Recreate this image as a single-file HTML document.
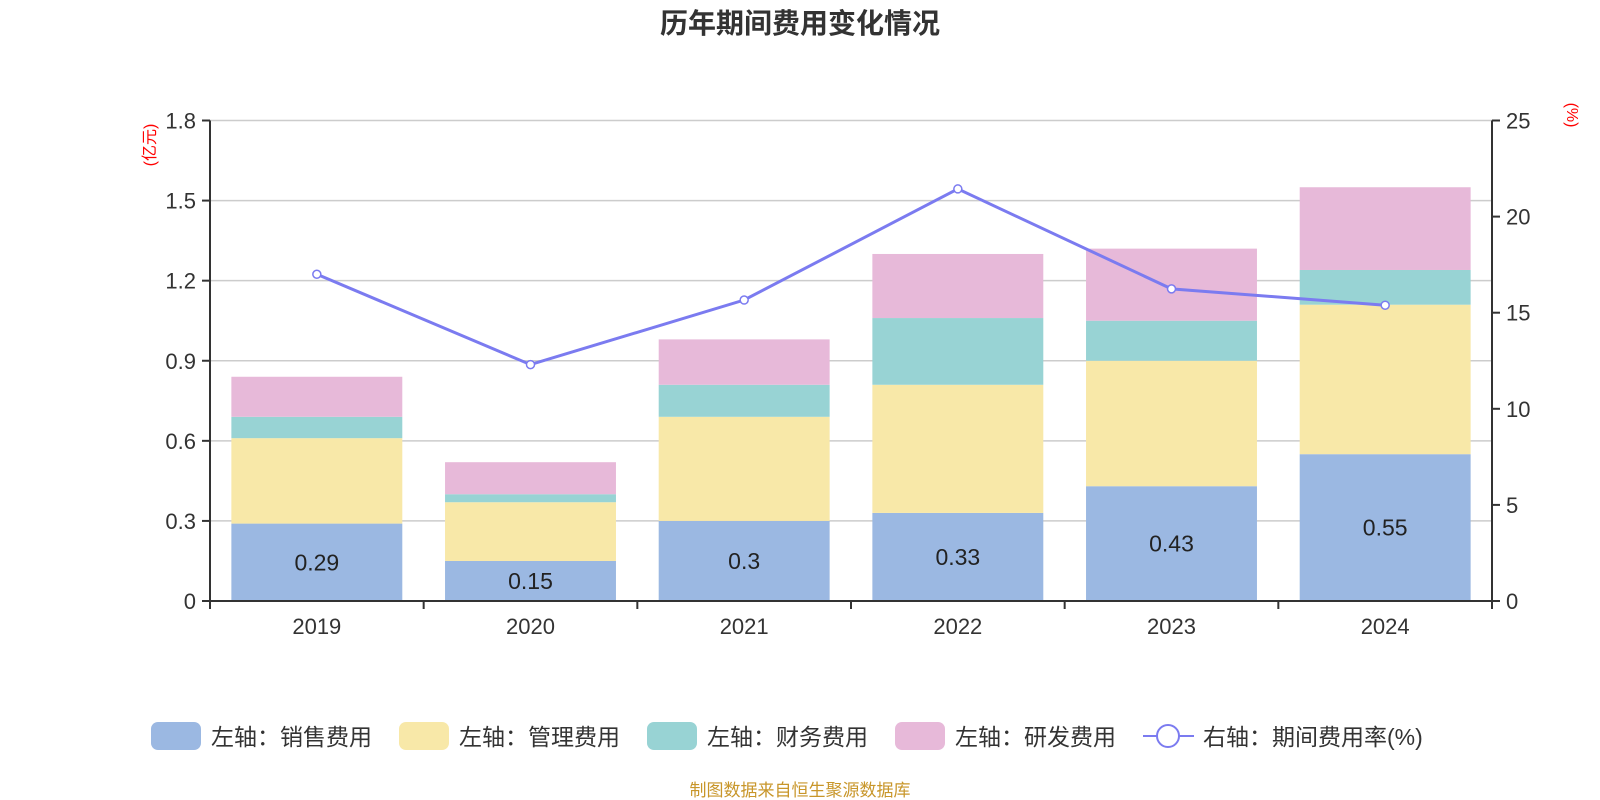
<!DOCTYPE html>
<html><head><meta charset="utf-8"><style>
body{margin:0;background:#fff;}
svg{display:block;font-family:"Liberation Sans","Noto Sans CJK SC",sans-serif;}
</style></head><body>
<svg id="chart" width="1600" height="800" viewBox="0 0 1600 800" xmlns="http://www.w3.org/2000/svg">
<text x="800" y="33" text-anchor="middle" font-size="28" font-weight="bold" fill="#333">历年期间费用变化情况</text>
<text transform="translate(155,145) rotate(-90)" text-anchor="middle" font-size="16" fill="#f00">(亿元)</text>
<text transform="translate(1567,115) rotate(90)" text-anchor="middle" font-size="16" fill="#f00">(%)</text>
<g id="grid"></g><g id="bars"></g><g id="axes"></g><g id="line"></g>
<g font-size="23" fill="#333">
<g><rect x="151" y="722" width="50" height="28" rx="7" fill="#9bb8e2"/><text x="211" y="745">左轴：销售费用</text></g>
<g><rect x="399" y="722" width="50" height="28" rx="7" fill="#f8e8a8"/><text x="459" y="745">左轴：管理费用</text></g>
<g><rect x="647" y="722" width="50" height="28" rx="7" fill="#98d3d4"/><text x="707" y="745">左轴：财务费用</text></g>
<g><rect x="895" y="722" width="50" height="28" rx="7" fill="#e7b9d9"/><text x="955" y="745">左轴：研发费用</text></g>
<g><line x1="1143" y1="736" x2="1194" y2="736" stroke="#7b7bf0" stroke-width="2"/><circle cx="1168" cy="736" r="11" fill="#fff" stroke="#7b7bf0" stroke-width="2"/><text x="1203" y="745">右轴：期间费用率(%)</text></g>
</g>
<text x="800" y="796" text-anchor="middle" font-size="17" fill="#c8962a">制图数据来自恒生聚源数据库</text>
</svg>
<script>
const categories=["2019","2020","2021","2022","2023","2024"];
const sales=[0.29,0.15,0.30,0.33,0.43,0.55];
const admin=[0.32,0.22,0.39,0.48,0.47,0.56];
const finance=[0.08,0.03,0.12,0.25,0.15,0.13];
const rd=[0.15,0.12,0.17,0.24,0.27,0.31];
const rate=[17.0,12.3,15.66,21.44,16.24,15.39];
const leftTicks=["0","0.3","0.6","0.9","1.2","1.5","1.8"];
const rightTicks=["0","5","10","15","20","25"];
const NS="http://www.w3.org/2000/svg";
const X0=210,X1=1492,Y0=601,Y1=120.5;
const band=(X1-X0)/categories.length;
const xc=i=>X0+band*(i+0.5);
const yL=v=>Y0-(v/1.8)*(Y0-Y1);
const yR=v=>Y0-(v/25)*(Y0-Y1);
function mk(t,a,p){const e=document.createElementNS(NS,t);for(const k in a)e.setAttribute(k,a[k]);p.appendChild(e);return e;}
const grid=document.getElementById('grid'),bars=document.getElementById('bars'),axes=document.getElementById('axes'),line=document.getElementById('line');
leftTicks.forEach(t=>{const y=yL(+t);
 if(+t>0){const g=mk('line',{x1:X0,x2:X1,y1:y,y2:y,stroke:'#ccc','stroke-width':1.5},grid);}
 mk('line',{x1:X0-8,x2:X0,y1:y,y2:y,stroke:'#333','stroke-width':2},axes);
 const l=mk('text',{x:X0-14,y:y+8,'text-anchor':'end','font-size':22,fill:'#333'},axes);l.textContent=t;
 });
rightTicks.forEach(t=>{const y=yR(+t);
 mk('line',{x1:X1,x2:X1+8,y1:y,y2:y,stroke:'#333','stroke-width':2},axes);
 const l=mk('text',{x:X1+14,y:y+8,'font-size':22,fill:'#333'},axes);l.textContent=t;
 });
mk('line',{x1:X0,x2:X0,y1:Y1,y2:Y0,stroke:'#333','stroke-width':2},axes);
mk('line',{x1:X1,x2:X1,y1:Y1,y2:Y0+8,stroke:'#333','stroke-width':2},axes);
mk('line',{x1:X0,x2:X1,y1:Y0,y2:Y0,stroke:'#333','stroke-width':2},axes);
for(let i=0;i<=categories.length;i++){const x=X0+band*i;mk('line',{x1:x,x2:x,y1:Y0,y2:Y0+8,stroke:'#333','stroke-width':2},axes);}
const series=[[sales,'#9bb8e2','sales'],[admin,'#f8e8a8','admin'],[finance,'#98d3d4','finance'],[rd,'#e7b9d9','rd']];
const bw=band*0.8;
categories.forEach((c,i)=>{
 let base=0;
 series.forEach(([arr,col,nm])=>{const v=arr[i];
  const r=mk('rect',{x:xc(i)-bw/2,y:yL(base+v),width:bw,height:yL(base)-yL(base+v),fill:col},bars);
  base+=v;});
 const lb=mk('text',{x:xc(i),y:(yL(0)+yL(sales[i]))/2+8,'text-anchor':'middle','font-size':23,fill:'#222'},bars);
 lb.textContent=String(sales[i]);
 const xl=mk('text',{x:xc(i),y:Y0+33,'text-anchor':'middle','font-size':22,fill:'#333'},axes);
 xl.textContent=c;
});
const pl=mk('polyline',{points:rate.map((v,i)=>xc(i)+','+yR(v)).join(' '),fill:'none',stroke:'#7b7bf0','stroke-width':3},line);

rate.forEach((v,i)=>{const p=mk('circle',{cx:xc(i),cy:yR(v),r:4,fill:'#fff',stroke:'#7b7bf0','stroke-width':1.5},line);
 });
</script>
</body></html>
